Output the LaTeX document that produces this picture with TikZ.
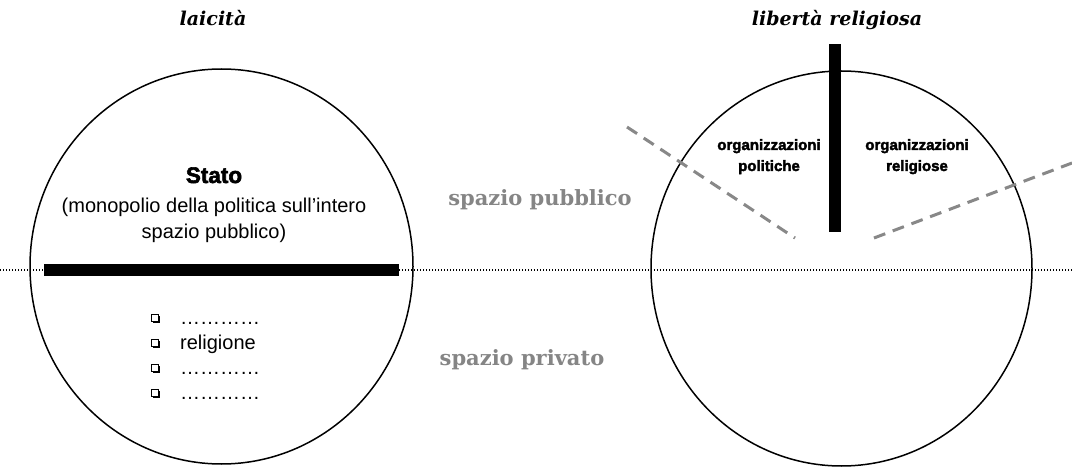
\documentclass[tikz,border=0pt]{standalone}
\usepackage{fontspec}
\setmainfont{Liberation Sans}
\newfontfamily\headfont{DejaVu Serif}
\newfontfamily\blackfont[FakeBold=2.5]{Liberation Sans Bold}
\usetikzlibrary{shapes.geometric}
\definecolor{dashgray}{HTML}{888888}
\definecolor{labelgray}{HTML}{858585}
\tikzset{
  x=1pt, y=-1pt,
  round/.style={draw=black, line width=1.5pt, ellipse, inner sep=0pt},
  heading/.style={anchor=base, font=\headfont\bfseries\itshape\fontsize{19}{22}\selectfont},
  spacelabel/.style={anchor=base, text=labelgray, font=\headfont\bfseries\fontsize{21}{24}\selectfont},
  body/.style={anchor=base, font=\fontsize{20}{24}\selectfont, inner sep=0pt},
  orgtext/.style={anchor=base, font=\blackfont\fontsize{15}{18}\selectfont, inner sep=0pt},
  divider/.style={dashgray, line width=3pt, dash pattern=on 12pt off 8pt},
  sepline/.style={black, line width=1.4pt, dash pattern=on 1.4pt off 1.6pt},
  bar/.style={fill=black, draw=none},
}
\newcommand{\qbox}[2]{%
  \draw[line width=0.7pt] (#1-3.2,#2-3.2) rectangle (#1+3.2,#2+3.2);
  \draw[line width=1.3pt] (#1-2,#2+3.9) -- (#1+3.9,#2+3.9) -- (#1+3.9,#2-2);
}
\begin{document}
\begin{tikzpicture}
\useasboundingbox (0,0) rectangle (1072,468);
\fill[white] (0,0) rectangle (1072,468);

% separator between public and private space
\coordinate (sepL) at (0,270);
\coordinate (sepR) at (1072,270);
\draw[sepline] (sepL) -- (sepR);

% circles
\node[round, minimum width=383pt, minimum height=395pt] (Lc) at (221.5,266.5) {};
\node[round, minimum width=381pt, minimum height=395pt] (Rc) at (841.5,268.5) {};

% left bar
\fill[bar] (44,264) rectangle (399,276);
% right vertical bar
\fill[bar] (829,44) rectangle (841,232);

% dashed dividers
\coordinate (d1a) at (627,127);
\coordinate (d1b) at (795,238);
\coordinate (d2a) at (874,238);
\coordinate (d2b) at (1072,163);
\draw[divider] (d1a) -- (d1b);
\draw[divider] (d2a) -- (d2b);

% headings
\node[heading] (h1) at (213,26) {laicità};
\node[heading] (h2) at (837,26) {libertà religiosa};

% middle labels
\node[spacelabel] (pub) at (540,206) {spazio pubblico};
\node[spacelabel] (priv) at (522,365) {spazio privato};

% Stato
\node[anchor=base, font=\blackfont\fontsize{22.5}{26}\selectfont, inner sep=0pt] (stato) at (214,183) {Stato};
\node[body] (p1) at (214,212) {(monopolio della politica sull’intero};
\node[body] (p2) at (214,238) {spazio pubblico)};

% list
\node[body, anchor=base west] (i1) at (180,324) {…………};
\node[body, anchor=base west] (i2) at (180,349) {religione};
\node[body, anchor=base west] (i3) at (180,374) {…………};
\node[body, anchor=base west] (i4) at (180,399) {…………};
\qbox{155}{318}
\qbox{155}{343}
\qbox{155}{368}
\qbox{155}{393}

% organizations
\node[orgtext] (o1) at (769,150) {organizzazioni};
\node[orgtext] (o2) at (769,171) {politiche};
\node[orgtext] (o3) at (917,150) {organizzazioni};
\node[orgtext] (o4) at (917,171) {religiose};
\end{tikzpicture}
\end{document}
